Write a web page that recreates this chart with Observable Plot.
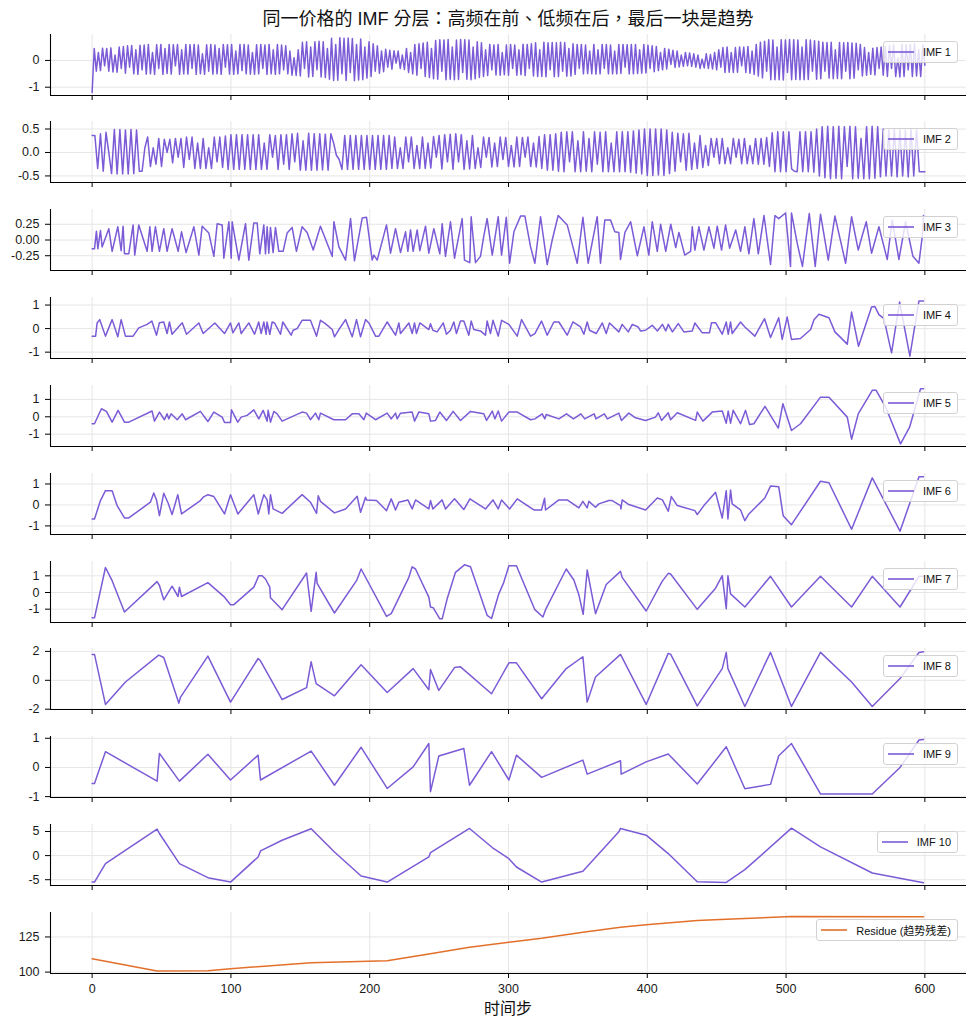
<!DOCTYPE html>
<html><head><meta charset="utf-8">
<script src="https://cdn.jsdelivr.net/npm/d3@7"></script>
<script src="https://cdn.jsdelivr.net/npm/@observablehq/plot@0.6"></script>
<style>
body{margin:0;background:#fff;font-family:"Liberation Sans","Noto Sans CJK SC",sans-serif;}
#wrap{position:relative;width:975px;height:1030px;overflow:hidden;background:#fff;}
.panel{position:absolute;left:0;}
.legend{position:absolute;right:17px;height:22px;box-sizing:border-box;border:1px solid #d2d2d2;border-radius:3px;background:rgba(255,255,255,0.8);display:flex;align-items:center;padding:0 6px 0 4px;font-size:11px;color:#111;white-space:nowrap;}
.legend svg{display:block;margin-right:9px;}
.title{position:absolute;left:0;width:1016px;text-align:center;top:8px;line-height:22px;font-size:18px;color:#111;font-family:"Liberation Sans","Noto Sans CJK TC",sans-serif;}
.xlab{position:absolute;left:0;width:1016px;text-align:center;top:999px;line-height:20px;font-size:16px;color:#111;}
</style></head><body><div id="wrap"></div>
<script>
// ---------------- data ----------------
const xTicks = [0, 100, 200, 300, 400, 500, 600];
const labels = ["IMF 1","IMF 2","IMF 3","IMF 4","IMF 5","IMF 6","IMF 7","IMF 8","IMF 9","IMF 10","Residue (趋势残差)"];
const titleText = "同一价格的 IMF 分层：高频在前、低频在后，最后一块是趋势";
const xLabel = "时间步";

// IMF 1: sampled every 1.5 time steps
const imf1Step = 1.5;
const imf1 = [
-1.2,.45,-.4,.3,-.38,.46,-.2,.45,-.4,.47,
-.43,.2,-.44,.5,-.3,.52,-.48,.55,-.25,.56,
-.5,.4,-.52,.57,-.35,.58,-.51,.6,-.5,.3,
-.52,.59,-.3,.6,-.52,.45,-.49,.6,-.51,.59,
-.2,.6,-.52,.4,-.5,.6,-.51,.59,-.3,.6,
-.52,.58,-.5,.25,-.52,.59,-.4,.6,-.51,.58,
-.5,.45,-.52,.6,-.25,.59,-.51,.6,-.52,.35,
-.5,.6,-.38,.6,-.5,.58,-.51,.3,-.52,.59,
-.5,.6,-.3,.58,-.52,.6,-.5,.4,-.52,.6,
-.5,.58,-.35,.55,-.5,.35,-.55,.1,-.56,.4,
-.58,.68,-.3,.7,-.62,.5,-.6,.7,-.35,.72,
-.62,.7,-.64,.45,-.7,.83,-.75,.6,-.74,.85,
-.5,.83,-.75,.84,-.45,.82,-.76,.6,-.73,.8,
-.72,.5,-.66,.7,-.6,.62,-.4,.55,-.48,.35,
-.42,.42,-.25,.38,-.33,.36,-.1,.35,-.3,.2,
-.34,.45,-.45,.3,-.5,.6,-.55,.62,-.3,.65,
-.6,.68,-.64,.45,-.68,.75,-.7,.77,-.4,.76,
-.72,.78,-.7,.5,-.72,.76,-.71,.78,-.45,.77,
-.7,.76,-.72,.5,-.68,.7,-.64,.66,-.6,.4,
-.56,.6,-.35,.58,-.54,.6,-.55,.3,-.53,.58,
-.55,.6,-.3,.58,-.55,.4,-.53,.61,-.56,.6,
-.3,.62,-.58,.66,-.6,.4,-.6,.68,-.61,.66,
-.35,.67,-.61,.66,-.6,.68,-.4,.67,-.59,.45,
-.58,.62,-.52,.6,-.3,.6,-.5,.58,-.49,.35,
-.5,.6,-.51,.4,-.5,.6,-.3,.6,-.5,.58,
-.5,.35,-.5,.6,-.49,.6,-.25,.59,-.5,.6,
-.5,.6,-.49,.4,-.48,.6,-.47,.57,-.3,.55,
-.42,.52,-.38,.3,-.35,.45,-.32,.42,-.15,.38,
-.26,.35,-.24,.2,-.22,.3,-.2,.28,-.22,.25,
-.25,.2,-.3,.05,-.28,.25,-.3,.22,-.32,.3,
-.35,.4,-.25,.48,-.45,.5,-.44,.3,-.45,.48,
-.44,.5,-.2,.5,-.45,.52,-.48,.35,-.52,.6,
-.58,.68,-.65,.72,-.4,.77,-.72,.76,-.72,.5,
-.72,.77,-.73,.76,-.45,.78,-.72,.77,-.71,.76,
-.72,.5,-.72,.77,-.71,.76,-.4,.74,-.7,.72,
-.68,.68,-.4,.67,-.66,.68,-.68,.4,-.67,.67,
-.68,.66,-.4,.67,-.68,.65,-.66,.64,-.35,.6,
-.58,.48,-.55,.3,-.52,.46,-.54,.48,-.3,.5,
-.55,.52,-.6,.55,-.3,.58,-.6,.1,-.62,.6,
-.6,.58,-.35,.6,-.6,.62,-.58,.4,-.6,.58,
-.18];

// IMF 2: sampled every 2 time steps
const imf2Step = 2;
const imf2 = [
.36,.36,-.34,.4,-.4,.43,0,-.45,.49,-.46,
.49,-.46,.48,-.46,.49,-.45,.48,-.4,-.4,.1,
.33,-.3,.1,-.25,.3,-.3,.28,0,.28,-.22,
.3,-.1,.3,-.32,.33,-.15,.33,-.34,.2,-.34,
.3,-.34,.1,-.34,.33,-.2,.33,-.32,.35,-.36,
.38,-.36,.38,-.36,.38,-.36,.38,-.36,.38,-.36,
.38,-.36,.2,-.36,.38,-.1,.36,-.36,.38,-.25,
.38,-.36,.4,-.2,.41,-.38,.25,-.38,.41,-.38,
.4,-.38,.4,-.37,.39,-.38,.4,.2,-.06,-.15,
-.36,.36,-.36,.36,-.36,.36,-.36,.36,-.36,.36,
-.36,.36,-.36,.36,-.36,.36,-.36,.36,-.34,.33,
-.34,.1,-.34,.33,-.2,.33,-.34,.15,-.34,.33,
-.34,.2,-.33,.34,-.1,.36,-.35,.38,-.2,.39,
-.36,.4,-.2,.38,-.36,.25,-.35,.36,-.34,.1,
-.32,.33,-.1,.32,-.31,.2,-.3,.33,-.15,.32,
-.3,.15,-.31,.33,-.3,.32,-.1,.33,-.3,.2,
-.31,.34,-.34,.38,-.38,.38,-.38,.4,-.4,.43,
-.41,.44,-.2,.44,-.41,.25,-.41,.44,-.4,.3,
-.41,.44,-.25,.43,-.41,.44,-.41,.2,-.41,.44,
-.41,.44,-.41,.44,-.42,.46,-.44,.48,-.46,.5,
-.49,.5,-.49,.5,-.48,.5,-.49,.48,-.45,.43,
-.4,.41,-.2,.4,-.38,.41,-.36,.2,-.34,.36,
-.32,.15,-.28,.3,-.1,.3,-.24,.3,-.24,.1,
-.24,.3,-.1,.28,-.24,.3,-.24,.15,-.24,.3,
-.25,.3,-.25,.32,-.3,.42,-.41,.44,-.41,.44,
-.41,.44,-.35,-.4,-.41,.44,-.41,.44,-.41,.44,
-.42,.5,-.5,.55,-.54,.56,-.56,.55,-.55,.56,
-.56,.55,-.3,.56,-.56,.55,-.55,.3,-.56,.55,
-.56,.56,-.55,.55,-.52,.5,-.5,.48,-.5,.5,
-.52,.48,-.5,.48,-.52,.5,-.5,.48,-.41,-.41,
-.41];

// IMF 3..10 and residue: [time step, value]
const imf3 = [[0,-.14],[1.7,-.14],[3.1,.14],[4.1,-.14],[6,.15],[7.2,-.11],[12,.18],[14.4,-.18],[18.5,.21],[20.9,-.17],[22.3,.22],[23.3,-.22],[26.4,-.22],[29.5,.24],[30.7,-.24],[33.6,.24],[39.6,-.18],[41.6,.21],[43.2,-.18],[45.6,.21],[48.5,-.18],[51.6,.18],[54,-.18],[57.6,.18],[62,-.18],[64.4,.13],[67.7,-.2],[73.3,.21],[76.9,-.24],[79.3,.22],[84.1,.11],[87.7,-.26],[90.1,.26],[93.7,.24],[94.9,-.29],[98.5,.29],[100.2,-.29],[100.9,.29],[105.7,-.32],[110.5,.26],[112.9,-.32],[116.5,.27],[118.9,.27],[120.8,-.22],[123.7,.24],[124.9,-.22],[126.1,.21],[127.3,-.21],[128.5,.2],[130.4,-.2],[132.1,.2],[134.5,-.18],[137.6,-.18],[140.5,.11],[144.1,.2],[147.2,-.18],[151.3,.21],[154.9,.12],[159.3,-.16],[164.5,.22],[173,-.26],[174.2,.29],[177.8,-.11],[182.6,-.32],[186.2,.34],[189,-.33],[194.6,.35],[197.7,.36],[201.8,-.32],[203,-.24],[205.4,-.32],[212.1,.24],[215,-.21],[218.6,.18],[222.2,-.2],[225.8,.13],[227.5,-.18],[229.4,.16],[231.3,-.18],[234.2,.16],[236.1,-.17],[240.2,.22],[242.6,-.21],[246.2,.18],[250.5,-.22],[252.2,.26],[254.6,-.26],[258.2,.29],[261.1,-.29],[266.6,.34],[268.3,-.32],[272.1,-.36],[273.1,.37],[276.2,-.36],[279.8,-.26],[282.2,.06],[284.6,.34],[288.3,-.24],[292.6,.37],[295,-.24],[298.4,.36],[300.8,-.37],[303.9,.13],[308.7,.38],[311.8,.38],[315.9,-.11],[319,-.37],[323.1,.37],[327.9,-.39],[331.5,0],[335.8,.39],[342.3,.24],[349.5,-.37],[353.6,.36],[357.4,-.37],[363.9,.37],[366.3,-.37],[369.4,.32],[373.5,.32],[376.6,.13],[379.5,.12],[380.7,-.31],[383.9,.12],[388,.29],[392.8,-.25],[397.6,.21],[401.1,-.24],[403.6,.29],[407.2,-.18],[409.6,.25],[413.3,-.18],[416.9,.25],[420.5,-.12],[422.8,.12],[427,-.24],[431.2,-.18],[432.4,.21],[434.3,-.16],[437.2,.21],[440.8,-.16],[444.4,.21],[448,-.13],[450.4,.22],[453.5,-.16],[456.4,.24],[459.3,-.13],[463.7,.16],[467.2,-.18],[470.3,.21],[473.2,-.22],[476.8,.34],[480,-.22],[484.1,.39],[488.8,-.39],[492,.39],[494.7,.34],[499.6,.43],[503.2,-.42],[503.9,.43],[508,-.05],[511.8,-.42],[516.7,.42],[521,-.42],[524.8,.41],[530.4,-.32],[535.2,.38],[542.9,-.37],[547.2,.37],[552,-.16],[555,.08],[557.8,.29],[561.6,-.21],[566.9,.21],[572.9,-.31],[576.5,.32],[581.3,-.31],[586.1,.29],[591.4,-.26],[595.7,-.37],[598.1,.05],[599,.39]];

const imf4 = [[0,-.32],[2.5,-.32],[3.6,.24],[5.5,.38],[9.6,-.32],[14.4,.38],[18.5,-.35],[20.9,.38],[24,-.32],[29.5,-.32],[33.6,.03],[39.6,.18],[43,.32],[46.4,-.28],[48.5,.25],[51.6,.28],[54,-.21],[55.7,.28],[57.6,-.24],[64.9,.25],[68,-.24],[76.9,.24],[80,-.21],[88.4,.24],[95.4,-.21],[99.7,.24],[101.4,-.18],[105.7,.24],[107.4,-.21],[112.9,.24],[117,-.24],[120,.28],[121.8,-.21],[123.7,.28],[125.4,-.24],[126,.28],[128,-.24],[129.7,.28],[131.4,.24],[135.7,-.24],[137.4,.28],[143.4,-.28],[144.8,-.07],[147.7,0],[151.3,.35],[157.3,.35],[161.7,-.32],[164.5,.35],[168,.21],[173,-.04],[174.6,-.35],[177.8,-.04],[182.6,.38],[187.4,-.35],[190.5,.38],[193.4,-.35],[197,.38],[199.4,.24],[204.2,-.32],[206.6,-.32],[212.6,.28],[218.6,-.28],[221,.24],[222.2,-.21],[228.2,.24],[230.6,-.21],[232.3,.24],[233.7,-.21],[236.1,.24],[242.6,-.04],[243.8,.21],[245.5,-.07],[248.6,-.14],[253,.24],[255.3,-.24],[258.2,-.07],[260.6,.28],[262.5,-.21],[265.4,.32],[267.8,.32],[271.4,-.28],[273.1,.32],[275,-.04],[279.8,-.1],[283.4,-.28],[284.6,.32],[287,-.21],[288.8,.35],[292.6,-.32],[295,.35],[300.3,.18],[306.3,-.32],[309.4,.38],[315.9,-.32],[319,-.21],[323.8,.32],[327.9,-.28],[332.7,.28],[336.3,.28],[342.3,-.28],[346.4,.28],[351.9,.07],[354.3,-.24],[356.7,.28],[358.4,-.07],[363.2,-.21],[367.6,.24],[370.4,-.21],[372.8,.24],[379.5,-.14],[381.9,.18],[386.3,-.14],[389.2,.18],[393.4,.07],[395.1,-.1],[398.7,-.07],[403.6,.14],[407.3,-.1],[410.9,.18],[413.3,-.1],[415.1,.18],[418.1,-.14],[422.3,.21],[426.4,-.14],[432.4,-.1],[434.3,.24],[439.6,-.18],[444.8,-.18],[446.3,.25],[449.2,.25],[454,-.24],[456.9,.28],[458.3,-.24],[460,.28],[461.2,-.21],[467.2,.28],[470.3,.07],[477.5,-.32],[484.5,.42],[488.8,-.38],[494.7,.46],[497.2,-.46],[500.8,.49],[503.9,-.46],[510.4,-.42],[517.7,-.04],[520.1,.38],[523.7,.61],[530.9,.46],[535.2,-.14],[544.1,-.66],[547.2,.7],[552.2,-.75],[561.6,.92],[563.9,.94],[566.9,.59],[570.5,.42],[576,-1.03],[581.8,1.13],[589.2,-1.17],[595.7,1.17],[599,1.17]];

const imf5 = [[0,-.4],[1.7,-.4],[6.7,.46],[10.3,.31],[14.4,-.31],[18.7,.37],[23.3,-.31],[26.4,-.31],[43.2,.33],[44.9,-.25],[48.5,.27],[52.1,-.17],[54,.17],[55.2,-.12],[56.9,.17],[61.3,-.17],[64.9,.17],[67.3,-.17],[78,.31],[83.4,-.27],[87.7,.27],[93.7,-.02],[95.4,-.33],[99.7,-.33],[100.4,.4],[104.9,-.31],[107.4,-.02],[111.7,.08],[116.5,.4],[120.1,-.12],[123.2,.37],[126.1,-.25],[126.8,.37],[128.5,-.31],[130.9,.31],[133.3,.17],[136.9,-.25],[151.3,.27],[154.5,.21],[157.3,-.17],[160.9,.21],[163.3,-.17],[164.5,.21],[174.2,-.17],[182.6,-.17],[187.4,.17],[192.2,.17],[195.8,-.17],[197.5,.21],[204.2,-.17],[212.6,.21],[215.5,-.12],[218.6,.21],[219.8,-.12],[222.2,.21],[230.6,.27],[232.3,-.25],[235.4,.27],[242.6,.17],[243.8,-.25],[247.4,-.21],[250.5,.27],[255.3,-.21],[260.1,.31],[265.4,-.21],[272.6,.31],[282.2,.17],[284.2,-.21],[288.3,.33],[290.2,-.12],[292.6,.33],[295,-.25],[300.3,.27],[306.3,.27],[315.9,-.17],[319,-.12],[324.3,.17],[326.2,-.12],[327.2,.13],[336.3,-.12],[341.8,.17],[346.8,-.12],[352.2,.17],[354.9,-.12],[361.7,.17],[363,-.12],[369,.17],[371.3,-.12],[379.5,.21],[381.4,-.21],[386.7,.21],[391.5,-.06],[398.8,-.21],[405.9,-.02],[407.9,.23],[410.3,-.21],[415.1,.23],[416.8,-.17],[421.6,.23],[434.8,-.21],[436,.27],[440.1,-.25],[446.8,.27],[454,.33],[456.9,-.37],[458.3,.33],[460,-.37],[461.9,.37],[467.2,-.4],[470.8,.37],[473.7,-.44],[476.8,-.4],[484.8,.6],[494.4,-.65],[497.7,.75],[503.9,-.79],[510.4,-.4],[524.8,1.13],[530.9,1.13],[544.1,-.02],[547.2,-1.29],[552,.17],[562.1,1.52],[564.9,1.52],[571.7,.56],[582.5,-1.56],[589,-.6],[596.9,1.62],[599,1.62]];

const imf6 = [[0,-.67],[1.7,-.67],[6,.21],[9.6,.68],[14.4,.68],[18,-.03],[23.3,-.62],[26.4,-.62],[42,.13],[44.4,.57],[46.4,.24],[48.5,-.51],[51.6,.56],[54.8,.08],[57.6,-.46],[61.7,.49],[64.4,-.43],[78,.21],[80,.37],[83.4,.49],[87.7,.4],[95.4,-.43],[99.7,.49],[105,-.43],[116.5,.49],[119.7,-.43],[123.7,.49],[126.1,.24],[127.3,-.43],[128.5,.49],[130.4,-.19],[136.9,-.4],[151.3,.49],[157.3,.13],[161.7,-.4],[162.9,.44],[164.5,.17],[174.6,-.38],[182.6,-.19],[191,.41],[193.4,-.35],[197,.37],[197.7,.24],[204.9,.21],[212.1,-.27],[215.5,.29],[218.6,-.24],[221,.13],[227.5,.24],[230.6,-.19],[233,.24],[242.6,-.19],[243.8,.21],[245.5,-.19],[252.2,.24],[254.6,-.19],[261.1,.29],[267.8,-.22],[272.2,.29],[283.4,-.19],[288.8,.24],[292.6,-.19],[295,.24],[300.8,-.19],[306.3,.29],[318.3,-.24],[323.8,-.24],[326,.32],[326.7,-.24],[336.3,.24],[342.3,.24],[350.7,-.14],[353.6,.17],[356.7,-.14],[357.9,.17],[362.7,-.11],[365.1,.05],[372.3,.21],[374.7,.21],[380.7,-.03],[381,-.19],[381.9,.24],[386.7,.02],[398.8,-.24],[407.2,.33],[410.9,.24],[415.1,-.3],[417.3,.4],[421.6,-.03],[434.3,-.27],[436,-.46],[440.8,-.03],[449.2,.6],[454,-.62],[456.9,.68],[458.1,-.67],[460,.71],[461.2,.05],[467.2,-.24],[470.3,-.75],[473.2,-.43],[484.7,.33],[488.8,.9],[494.7,.87],[497.9,-.51],[503.9,-.94],[524.8,1.13],[530.9,1.06],[547.2,-1.16],[562.1,1.29],[582.1,-1.25],[595.8,1.35],[599,1.35]];

const imf7 = [[0,-1.52],[1.7,-1.52],[9.6,1.5],[14.4,.71],[23.3,-1.17],[46.8,.65],[48.5,.42],[51.6,-.44],[57.6,.38],[61.9,-.24],[62.9,.32],[64.4,-.24],[83.4,.59],[95.4,-.28],[99.7,-.73],[102.1,-.73],[116.5,.32],[120.1,1.01],[122.5,1.01],[124.9,.81],[128,.32],[128.5,-.32],[136.9,-1.03],[154.5,1.17],[157.8,-1.13],[161.4,1.21],[162.1,.55],[174.6,-1.23],[190.5,.71],[193.8,1.41],[212.1,-1.43],[215.5,-1.27],[228.2,.91],[230.6,1.54],[233,1.41],[242.6,-.28],[243.8,-.87],[245.7,-.91],[250.5,-1.58],[252.2,-1.58],[255.8,-.38],[261.8,1.21],[268.3,1.66],[272.6,1.54],[284.6,-1.37],[287.8,-1.56],[293,-.08],[296.6,.61],[300.3,1.6],[305.7,1.6],[319,-1.03],[324.8,-1.47],[326.7,-1.03],[341.6,1.41],[347.1,.75],[350.7,-.14],[353.8,-1.31],[356.7,1.35],[362.7,-1.27],[370.4,.48],[380.7,1.27],[381.9,.91],[399.2,-1.11],[410.7,.67],[415.1,1.15],[416.8,1.11],[436,-1.01],[449.2,.26],[454,1.01],[456.9,-.97],[458.1,1.01],[460,-.08],[470.3,-.87],[488.8,.97],[503.9,-.87],[524.8,.97],[547.2,-.87],[562.1,.97],[582.1,-.87],[595.8,.97],[599,.97]];

const imf8 = [[0,1.79],[1.7,1.79],[9.6,-1.67],[24,-.12],[48,1.74],[51.6,1.58],[62.5,-1.58],[63.7,-1.16],[83.4,1.67],[99.7,-1.51],[119.6,1.51],[121.3,1.35],[136.9,-1.33],[154.5,-.51],[157.8,1.28],[161.4,-.23],[174.6,-1.07],[193.8,1.07],[212.6,-.84],[231.3,.81],[242.6,-.65],[243.8,.74],[249.8,-.7],[261.1,.88],[265.4,.93],[287.8,-.93],[300.3,1.21],[305.7,1.21],[323.9,-1.28],[341.6,.81],[353.6,1.63],[356.7,-1.51],[362.7,.23],[380.7,1.79],[399.2,-1.67],[415.1,1.86],[416.8,1.81],[436,-1.77],[454,.81],[456.9,1.93],[458.1,.81],[470.3,-1.81],[488.8,1.93],[503.9,-1.81],[524.8,1.93],[547.2,-.12],[562.1,-1.81],[582.1,.12],[595.8,1.93],[599,1.98]];

const imf9 = [[0,-.55],[1.7,-.55],[9.6,.54],[46.8,-.47],[48.5,.48],[62.9,-.47],[83.4,.45],[99.7,-.43],[119.6,.42],[121.3,-.43],[157.8,.56],[174.6,-.61],[193.8,.69],[212.6,-.72],[231.3,.02],[242.6,.82],[243.8,-.83],[249.8,.39],[267.8,.65],[271.9,-.61],[287.8,.54],[300.3,-.43],[305.7,.42],[323.9,-.34],[353.6,.25],[356.7,-.23],[380.7,.23],[381.2,-.23],[399.2,.19],[415.1,.46],[436,-.57],[456.9,.71],[470.3,-.73],[488.8,-.58],[494.7,.4],[503.9,.82],[524.8,-.91],[562.1,-.91],[582.1,0],[595.8,.94],[599,.96]];

const imf10 = [[0,-5.49],[1.7,-5.49],[9.6,-1.67],[46.8,5.49],[48.5,4.58],[62.9,-1.67],[83.4,-4.58],[99.7,-5.49],[119.6,-.28],[121.3,.97],[136.9,3.19],[157.8,5.56],[174.6,.76],[193.8,-4.24],[212.6,-5.49],[242.6,-.28],[243.8,.63],[271.9,5.63],[288.3,1.67],[300.3,-.63],[305.7,-2.36],[323.9,-5.49],[353.6,-3.26],[379.5,4.93],[380.7,5.63],[399.2,4.24],[415.1,.42],[436,-5.42],[456.9,-5.56],[470.3,-2.92],[503.9,5.69],[524.8,1.81],[562.1,-3.61],[599,-5.63]];

const residue = [[0,109.5],[46.8,100.7],[83.4,101],[99.7,102.4],[157.8,106.7],[212.6,108.1],[242.6,112.9],[271.9,117.6],[300.3,121.2],[323.9,124],[353.6,128.3],[380.7,131.9],[399.2,133.6],[436,136.7],[456.9,137.6],[503.9,139.5],[599,139.3]];

// --------------- layout / style ---------------
const PURPLE = "#7b5bd6";
const ORANGE = "#e2702a";
const FONT = "'Liberation Sans','Noto Sans CJK SC',sans-serif";

const yCfg = [
  {domain:[-1.31,0.97], ticks:[-1,0], dec:0},
  {domain:[-0.64,0.66], ticks:[-0.5,0,0.5], dec:1},
  {domain:[-0.485,0.485], ticks:[-0.25,0,0.25], dec:2},
  {domain:[-1.27,1.32], ticks:[-1,0,1], dec:0},
  {domain:[-1.71,1.8], ticks:[-1,0,1], dec:0},
  {domain:[-1.41,1.5], ticks:[-1,0,1], dec:0},
  {domain:[-1.8,1.86], ticks:[-1,0,1], dec:0},
  {domain:[-2.02,2.2], ticks:[-2,0,2], dec:0},
  {domain:[-1.03,1.06], ticks:[-1,0,1], dec:0},
  {domain:[-6.2,6.45], ticks:[-5,0,5], dec:0},
  {domain:[99,142.4], ticks:[100,125], dec:0}
];

const toRows = arr => arr.map(([t, v]) => ({t, v}));
const seriesRows = [
  imf1.map((v, i) => ({t: i * imf1Step, v})),
  imf2.map((v, i) => ({t: i * imf2Step, v})),
  toRows(imf3), toRows(imf4), toRows(imf5), toRows(imf6),
  toRows(imf7), toRows(imf8), toRows(imf9), toRows(imf10), toRows(residue)
];

const wrap = document.getElementById("wrap");
const T0 = 33.5, STEP = 87.85, INNER = 61, MT = 6;

const tdiv = document.createElement("div");
tdiv.className = "title"; tdiv.textContent = titleText; wrap.appendChild(tdiv);

seriesRows.forEach((rows, i) => {
  const last = i === seriesRows.length - 1;
  const cfg = yCfg[i];
  const color = last ? ORANGE : PURPLE;
  const MB = last ? 30 : 22;
  const chart = Plot.plot({
    width: 975,
    height: MT + INNER + MB,
    marginLeft: 50, marginRight: 9, marginTop: MT, marginBottom: MB,
    style: {fontFamily: FONT, fontSize: "12.5px", color: "#1a1a1a", background: "transparent", overflow: "visible"},
    x: {domain: [-30, 630]},
    y: {domain: cfg.domain},
    marks: [
      Plot.gridX(xTicks, {stroke: "#e6e6e6", strokeOpacity: 1, strokeWidth: 1}),
      Plot.gridY(cfg.ticks, {stroke: "#e6e6e6", strokeOpacity: 1, strokeWidth: 1}),
      Plot.line(rows, {x: "t", y: "v", stroke: color, strokeWidth: 1.5}),
      Plot.ruleX([-30], {stroke: "#000", strokeWidth: 1.1}),
      Plot.ruleY([cfg.domain[0]], {stroke: "#000", strokeWidth: 1.1}),
      Plot.axisY({ticks: cfg.ticks, tickFormat: d => d.toFixed(cfg.dec), tickSize: 5, tickPadding: 6, label: null, stroke: "#000"}),
      Plot.axisX({ticks: xTicks, tickFormat: last ? (d => String(d)) : (() => ""), tickSize: 5, tickPadding: 6, label: null, stroke: "#000"})
    ]
  });
  chart.classList.add("panel");
  const top = T0 + STEP * i;
  chart.style.top = (top - MT) + "px";
  wrap.appendChild(chart);

  const lg = document.createElement("div");
  lg.className = "legend";
  lg.style.top = (top + 7) + "px";
  lg.innerHTML = `<svg width="26" height="6"><line x1="0" x2="26" y1="3" y2="3" stroke="${color}" stroke-width="1.6"/></svg>`;
  const lt = document.createElement("span");
  lt.textContent = labels[i];
  lg.appendChild(lt);
  wrap.appendChild(lg);
});

const xl = document.createElement("div");
xl.className = "xlab"; xl.textContent = xLabel; wrap.appendChild(xl);
</script></body></html>
